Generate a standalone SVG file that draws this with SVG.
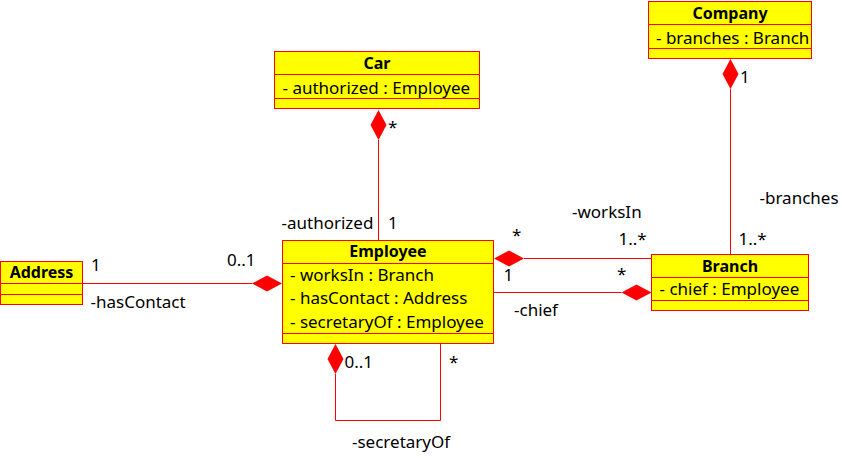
<svg xmlns="http://www.w3.org/2000/svg" width="842" height="458" viewBox="0 0 842 458">
<style>
.box{fill:#ffff00;stroke:#ff0000;stroke-width:1}
.div{stroke:#ff0000;stroke-width:1}
.ln{fill:none;stroke:#ff0000;stroke-width:1}
.dia{fill:#ff0000;stroke:none}
text{font-family:"Noto Sans","Open Sans","DejaVu Sans",sans-serif;font-size:17px;fill:#000}
.h{font-weight:bold;font-size:16px;text-anchor:middle}
</style>
<rect width="842" height="458" fill="#ffffff"/>
<g id="connectors">
  <path class="ln" d="M378.5 140 V240.5"/>
  <polygon class="dia" points="378.5,110 386.5,125 378.5,140 370.5,125"/>
  <path class="ln" d="M730.5 89 V254.5"/>
  <polygon class="dia" points="730.5,59 738.5,74 730.5,89 722.5,74"/>
  <path class="ln" d="M82.5 283.5 H252"/>
  <polygon class="dia" points="282,283.5 267,291.5 252,283.5 267,275.5"/>
  <path class="ln" d="M524 258.5 H651.5"/>
  <polygon class="dia" points="494,258.5 509,250.5 524,258.5 509,266.5"/>
  <path class="ln" d="M493.5 292.5 H621.5"/>
  <polygon class="dia" points="621.5,292.5 636.5,284.5 651.5,292.5 636.5,300.5"/>
  <path class="ln" d="M335.5 374 V420.5 H440.5 V344"/>
  <polygon class="dia" points="335.5,344 343.5,359 335.5,374 327.5,359"/>
  <text x="388" y="132.5">*</text>
  <text x="281.5" y="228.5">-authorized</text>
  <text x="388" y="228.5">1</text>
  <text x="740" y="82.5">1</text>
  <text x="759.5" y="203.5">-branches</text>
  <text x="738.5" y="244.5">1..*</text>
  <text x="91" y="271">1</text>
  <text x="90.5" y="307.5">-hasContact</text>
  <text x="227" y="265.5">0..1</text>
  <text x="512" y="240.5">*</text>
  <text x="572" y="217.5">-worksIn</text>
  <text x="618.5" y="245">1..*</text>
  <text x="503.5" y="281">1</text>
  <text x="617" y="280">*</text>
  <text x="514" y="315.5">-chief</text>
  <text x="344.5" y="367.5">0..1</text>
  <text x="449" y="368">*</text>
  <text x="352" y="448">-secretaryOf</text>
</g>
<g id="car">
  <rect class="box" x="274.5" y="51.5" width="205" height="57"/>
  <path class="div" d="M274.5 74.5 H479.5 M274.5 98.5 H479.5"/>
  <text class="h" x="377" y="68.5">Car</text>
  <text x="282.5" y="93.5">- authorized : Employee</text>
</g>
<g id="company">
  <rect class="box" x="648.5" y="1.5" width="163" height="57"/>
  <path class="div" d="M648.5 24.5 H811.5 M648.5 48.5 H811.5"/>
  <text class="h" x="730" y="18.5">Company</text>
  <text x="656" y="43.5">- branches : Branch</text>
</g>
<g id="address">
  <rect class="box" x="0.5" y="261.5" width="82" height="43"/>
  <path class="div" d="M0.5 283.5 H82.5 M0.5 294.5 H82.5"/>
  <text class="h" x="41.5" y="277.5">Address</text>
</g>
<g id="employee">
  <rect class="box" x="282.5" y="240.5" width="211" height="103"/>
  <path class="div" d="M282.5 263.5 H493.5 M282.5 333.5 H493.5"/>
  <text class="h" x="388" y="257">Employee</text>
  <text x="290" y="280.5">- worksIn : Branch</text>
  <text x="290" y="304">- hasContact : Address</text>
  <text x="290" y="327.5">- secretaryOf : Employee</text>
</g>
<g id="branch">
  <rect class="box" x="651.5" y="254.5" width="157" height="56"/>
  <path class="div" d="M651.5 277.5 H808.5 M651.5 300.5 H808.5"/>
  <text class="h" x="730" y="272">Branch</text>
  <text x="659.5" y="294.5">- chief : Employee</text>
</g>
</svg>
